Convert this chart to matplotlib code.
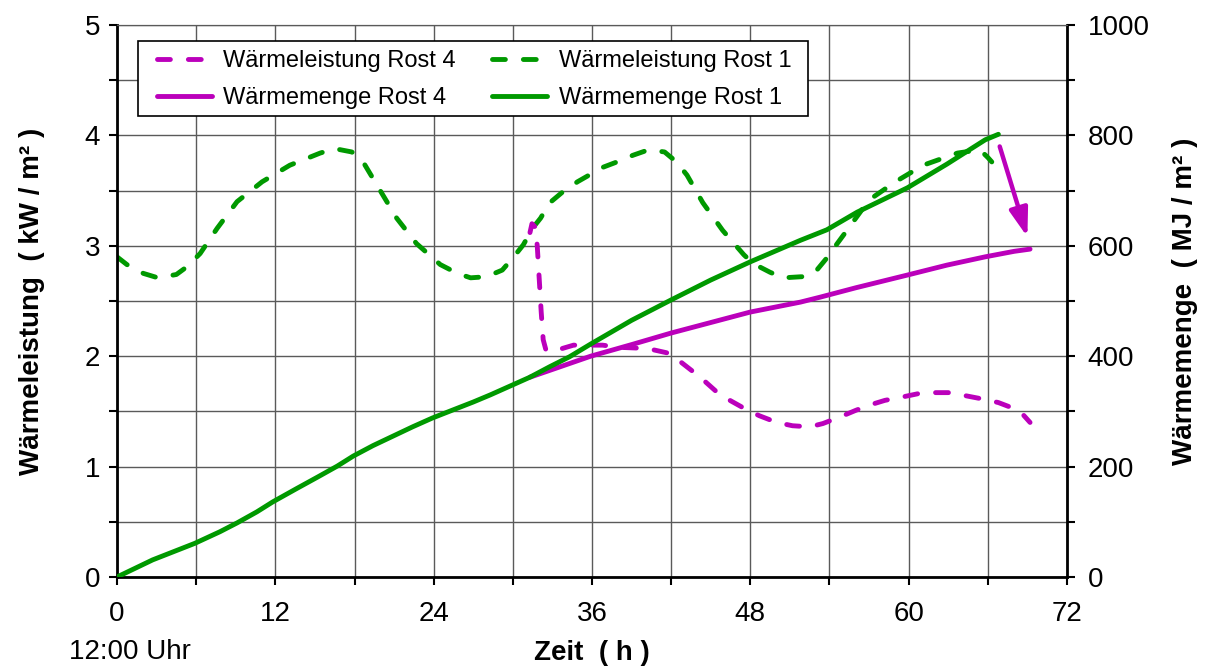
import matplotlib
matplotlib.use('Agg')
import matplotlib.pyplot as plt
from matplotlib.ticker import MultipleLocator
from matplotlib.patches import Rectangle

plt.rcParams['font.family'] = ['Liberation Sans', 'DejaVu Sans']

# ---------------- data ----------------
hours_power_rost1 = [0, 0.75, 2, 3.1, 4.5, 5.3, 6.3, 7.6, 9.1, 11, 13.1, 15.4, 16.5, 17.8, 18.7,
                     19.9, 21.2, 22.7, 24.5, 25.8, 26.8, 28, 29.2, 30, 30.8, 31.5, 32.1, 32.8,
                     33.7, 34.9, 36.8, 37.9, 39.1, 40.3, 41.5, 42.4, 43.2, 44.4, 45.9, 47.5,
                     48.2, 49.5, 50.5, 51.9, 52.9, 53.8, 54.4, 55.2, 56.6, 57.3, 59, 61.1,
                     63.7, 65.4, 66, 66.3]
power_rost1 = [2.90, 2.83, 2.75, 2.71, 2.74, 2.81, 2.93, 3.16, 3.40, 3.58, 3.73, 3.84, 3.88,
               3.85, 3.75, 3.51, 3.25, 3.02, 2.83, 2.75, 2.71, 2.72, 2.78, 2.89, 3.01, 3.16,
               3.25, 3.39, 3.48, 3.58, 3.71, 3.76, 3.82, 3.87, 3.85, 3.76, 3.64, 3.39, 3.14,
               2.92, 2.84, 2.76, 2.71, 2.72, 2.76, 2.89, 2.99, 3.12, 3.35, 3.44, 3.58, 3.73,
               3.84, 3.87, 3.80, 3.76]

hours_power_rost4 = [31.3, 31.45, 31.7, 31.85, 32.0, 32.15, 32.3, 32.5, 32.9, 34.6, 36.8, 38.1,
                     40.2, 41.7, 42.7, 44.2, 45.7, 46.6, 47.8, 48.7, 50, 51.2, 52.5, 53.5, 54.8,
                     56, 57.1, 58.2, 59.5, 60.7, 61.9, 63, 64.4, 65.7, 66.8, 67.9, 68.6, 69.2]
power_rost4 = [3.12, 3.20, 3.17, 3.00, 2.70, 2.40, 2.15, 2.06, 2.04, 2.10, 2.10, 2.08, 2.07,
               2.03, 1.95, 1.81, 1.65, 1.59, 1.51, 1.46, 1.40, 1.37, 1.36, 1.39, 1.45, 1.51,
               1.56, 1.60, 1.63, 1.66, 1.67, 1.67, 1.64, 1.61, 1.58, 1.53, 1.48, 1.40]

hours_energy_rost1 = [0, 2.7, 5.9, 7.8, 9.1, 10.6, 11.8, 13.6, 15.2, 16.7, 17.9, 19.4, 20.9,
                      22.4, 23.9, 25.5, 27, 28.3, 29.8, 31.3, 32.8, 34.3, 35.9, 39, 42, 45,
                      48, 51.8, 53.8, 56.1, 59.9, 62.9, 65.8, 66.8]
energy_rost1 = [0, 31, 61, 82, 98, 118, 136, 160, 181, 201, 219, 238, 255, 272, 288, 303, 317,
                330, 346, 362, 381, 399, 422, 465, 502, 538, 571, 610, 629, 661, 705, 748,
                792, 802]

hours_energy_rost4 = [31.3, 33, 35.9, 39, 42, 45, 48, 51.8, 53.3, 56, 59.9, 62.9, 65.8, 68, 69.2]
energy_rost4 = [362, 376, 400, 421, 442, 461, 480, 498, 507, 524, 547, 565, 580, 590, 594]

labels = ['Wärmeleistung Rost 4', 'Wärmemenge Rost 4',
          'Wärmeleistung Rost 1', 'Wärmemenge Rost 1']
arrow_from = (66.9, 3.90)
arrow_to = (69.0, 3.08)

x_ticks = [0, 12, 24, 36, 48, 60, 72]
left_ticks = [0, 1, 2, 3, 4, 5]
right_ticks = [0, 200, 400, 600, 800, 1000]

# ---------------- style ----------------
GREEN = '#009900'
MAGENTA = '#BB00BB'
GRID = '#5a5a5a'
LW = 3.5
DASH = (2.65, 3.7)

fig = plt.figure(figsize=(12.07, 6.68), dpi=100)
ax = fig.add_axes([117 / 1207, 91 / 668, 950 / 1207, 552 / 668])
ax2 = ax.twinx()

ax.set_xlim(0, 72)
ax.set_ylim(0, 5)
ax2.set_ylim(0, 1000)

ax.xaxis.set_minor_locator(MultipleLocator(6))
ax.yaxis.set_minor_locator(MultipleLocator(0.5))
ax2.yaxis.set_minor_locator(MultipleLocator(100))
ax.set_xticks(x_ticks)
ax.set_yticks(left_ticks)
ax2.set_yticks(right_ticks)

ax.grid(True, which='both', color=GRID, linewidth=1.0)
ax.set_axisbelow(True)

for a in (ax, ax2):
    a.tick_params(which='both', direction='out', length=6, width=1.5, color='black',
                  labelsize=20, pad=6)
ax.tick_params(axis='x', pad=11)
ax2.tick_params(axis='y', pad=9)

for s in ('left', 'bottom'):
    ax.spines[s].set_linewidth(2)
ax2.spines['right'].set_linewidth(2)
ax.spines['top'].set_color(GRID)
ax2.spines['top'].set_color(GRID)
ax.spines['right'].set_visible(False)
ax2.spines['left'].set_visible(False)
ax2.spines['bottom'].set_visible(False)

l_p1, = ax.plot(hours_power_rost1, power_rost1, color=GREEN, lw=LW, dashes=DASH,
                dash_capstyle='round', label=labels[2])
l_p4, = ax.plot(hours_power_rost4, power_rost4, color=MAGENTA, lw=LW, dashes=DASH,
                dash_capstyle='round', label=labels[0])
l_e4, = ax2.plot(hours_energy_rost4, energy_rost4, color=MAGENTA, lw=LW,
                 solid_capstyle='round', solid_joinstyle='round', label=labels[1])
l_e1, = ax2.plot(hours_energy_rost1, energy_rost1, color=GREEN, lw=LW,
                 solid_capstyle='round', solid_joinstyle='round', label=labels[3])

ax2.annotate('', xy=arrow_to, xytext=arrow_from,
             xycoords=ax.transData, textcoords=ax.transData,
             arrowprops=dict(arrowstyle='-|>,head_length=0.85,head_width=0.28',
                             color=MAGENTA, lw=3.2, mutation_scale=20,
                             shrinkA=0, shrinkB=0))

# legend box (frame drawn separately to match the reference's padding)
box = Rectangle((21 / 950, 1 - 116 / 552 + 25 / 552), 670 / 950, 75 / 552,
                transform=ax2.transAxes, facecolor='white', edgecolor='black',
                linewidth=1.2, zorder=10)
ax2.add_patch(box)
leg = ax2.legend([l_p4, l_e4, l_p1, l_e1], labels, ncol=2, loc='upper left',
                 bbox_to_anchor=(39.5 / 950, 1 - 25 / 552), fontsize=17,
                 frameon=False, handlelength=2.33, handletextpad=0.49,
                 columnspacing=1.55, labelspacing=0.64, borderpad=0,
                 borderaxespad=0)
leg.set_zorder(11)

ax.set_ylabel('Wärmeleistung  ( kW / m² )', fontsize=20, fontweight='bold', labelpad=29)
ax2.set_ylabel('Wärmemenge  ( MJ / m² )', fontsize=20, fontweight='bold', labelpad=16,
               rotation=90)
ax.set_xlabel('Zeit  ( h )', fontsize=20, fontweight='bold', labelpad=10)
fig.text(69 / 1207, 1 - 652 / 668, '12:00 Uhr', fontsize=20, ha='left', va='center')

fig.savefig('out.png', dpi=100)
